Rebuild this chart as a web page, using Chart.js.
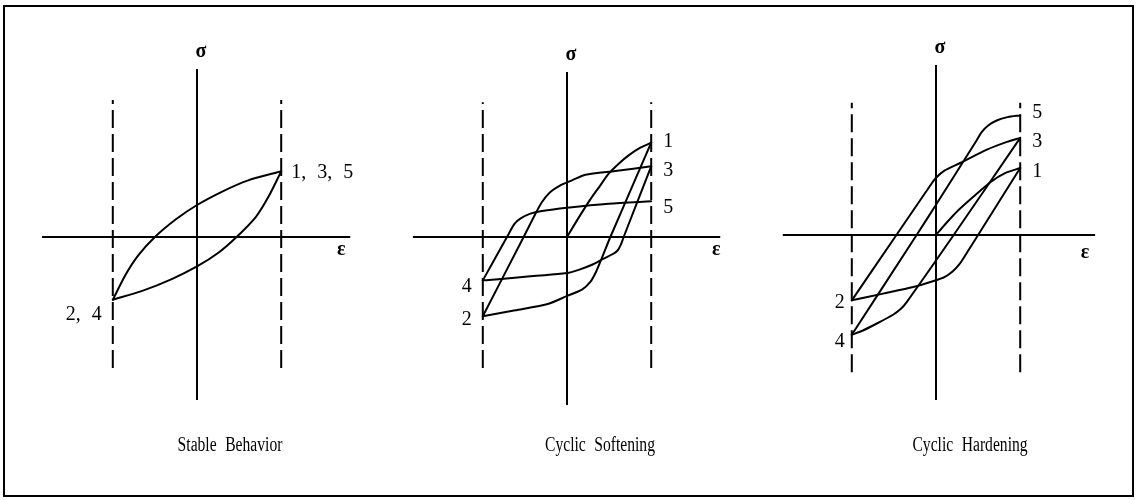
<!DOCTYPE html>
<html><head><meta charset="utf-8">
<script src="https://cdn.jsdelivr.net/npm/chart.js@4.4.1/dist/chart.umd.min.js"></script>
<style>
html,body{margin:0;padding:0;background:#fff;width:1140px;height:500px;overflow:hidden;}
#frame{position:absolute;left:3px;top:5px;width:1131px;height:492px;border:2px solid #000;box-sizing:border-box;}
canvas{position:absolute;}
.title{position:absolute;top:433px;width:260px;text-align:center;font-family:"Liberation Serif",serif;font-size:20px;line-height:22px;color:#000;transform:scaleX(0.78);word-spacing:6px;white-space:nowrap;}
</style></head><body>
<div id="frame"></div>
<canvas id="c1"></canvas>
<canvas id="c2"></canvas>
<canvas id="c3"></canvas>
<div class="title" style="left:100px">Stable Behavior</div>
<div class="title" style="left:470px">Cyclic Softening</div>
<div class="title" style="left:840px">Cyclic Hardening</div>
<script>
// ---------- DATA (normalised strain ε, normalised stress σ) ----------
const panelTitles = ['Stable Behavior', 'Cyclic Softening', 'Cyclic Hardening'];

// Stable behaviour: closed loop between 2,4 and 1,3,5
const stableLoadEps   = [-1, -0.85, -0.7, -0.5, -0.25, 0, 0.3, 0.6, 1];
const stableLoadSig   = [-0.745, -0.45, -0.22, 0, 0.21, 0.38, 0.54, 0.67, 0.78];
const stableUnloadEps = [1, 0.85, 0.7, 0.47, 0.25, 0, -0.3, -0.65, -1];
const stableUnloadSig = [0.78, 0.48, 0.24, 0, -0.19, -0.35, -0.5, -0.64, -0.745];

// Cyclic softening
const softVirginEps = [0, 0.139, 0.277, 0.396, 0.495, 0.614, 0.732, 0.871, 1];
const softVirginSig = [0, 0.23, 0.447, 0.614, 0.752, 0.871, 0.97, 1.061, 1.12];
const soft12Eps = [1, 0.515, 0.408, 0.344, 0.277, 0.178, 0, -0.218, -0.614, -1];
const soft12Sig = [1.12, 0, -0.265, -0.416, -0.534, -0.625, -0.70, -0.792, -0.871, -0.942];
const soft23Eps = [-1, -0.515, -0.364, -0.297, -0.198, -0.079, 0.059, 0.218, 0.574, 1];
const soft23Sig = [-0.942, 0, 0.297, 0.416, 0.534, 0.614, 0.673, 0.74, 0.784, 0.839];
const soft34Eps = [1, 0.673, 0.64, 0.6, 0.54, 0.435, 0.297, 0.139, 0, -1];
const soft34Sig = [0.839, 0, -0.09, -0.16, -0.205, -0.257, -0.33, -0.39, -0.428, -0.515];
const soft45Eps = [-1, -0.713, -0.622, -0.554, -0.435, -0.297, 0, 0.495, 1];
const soft45Sig = [-0.515, 0, 0.158, 0.218, 0.277, 0.309, 0.348, 0.396, 0.424];

// Cyclic hardening
const hardVirginEps = [0, 0.12, 0.25, 0.45, 0.65, 0.82, 1];
const hardVirginSig = [0, 0.14, 0.28, 0.46, 0.63, 0.735, 0.796];
const hard12Eps = [1, 0.5, 0.38, 0.29, 0.2, 0.1, 0, -0.27, -0.629, -1];
const hard12Sig = [0.796, 0, -0.19, -0.33, -0.43, -0.50, -0.537, -0.617, -0.696, -0.776];
const hard23Eps = [-1, -0.47, -0.06, 0, 0.1, 0.286, 0.605, 0.843, 1];
const hard23Sig = [-0.776, 0, 0.6, 0.68, 0.765, 0.855, 1.014, 1.106, 1.154];
const hard34Eps = [1, 0.21, -0.35, -0.42, -0.51, -0.708, -0.868, -1];
const hard34Sig = [1.154, 0, -0.80, -0.88, -0.947, -1.054, -1.134, -1.185];
const hard45Eps = [-1, -0.23, 0, 0.48, 0.54, 0.62, 0.72, 0.85, 1];
const hard45Sig = [-1.185, 0, 0.36, 1.12, 1.22, 1.3, 1.36, 1.40, 1.42];

// Reversal point labels
const stableLabels = ['1, 3, 5', '2, 4'];
const softLabels   = ['1', '2', '3', '4', '5'];
const hardLabels   = ['1', '2', '3', '4', '5'];

// Axis extents (data units)
const strainLimit = [-1, 1];
const axisExtents = [
  {sig: [-1.936, 1.995], eps: [-1.84, 1.82], dash: [-1.556, 1.627]},
  {sig: [-1.995, 1.96],  eps: [-1.83, 1.82], dash: [-1.556, 1.60]},
  {sig: [-1.96, 2.02],   eps: [-1.82, 1.89], dash: [-1.63, 1.57]}
];

// ---------- helpers ----------
const U = 84.2;                 // px per unit
const CW = 370, CTOP = 25, CH = 410;
const origins = [[197, 237], [567, 237], [936, 235]];

function pts(xs, ys){ return xs.map((v,i)=>({x:v, y:ys[i]})); }
function curve(xs, ys){
  return {data: pts(xs, ys), showLine:true, borderColor:'#000', borderWidth:2,
          pointRadius:0, tension:0.25, fill:false, borderCapStyle:'round', borderJoinStyle:'round'};
}
function straight(xs, ys, dash){
  return {data: pts(xs, ys), showLine:true, borderColor:'#000', borderWidth:2,
          pointRadius:0, tension:0, fill:false, borderDash: dash || []};
}
function textPlugin(items){
  return {
    id:'texts',
    afterDatasetsDraw(chart){
      const {ctx, scales:{x, y}} = chart;
      ctx.save();
      ctx.fillStyle = '#000';
      items.forEach(it=>{
        ctx.font = it.font;
        ctx.textAlign = it.align;
        ctx.textBaseline = 'alphabetic';
        if ('wordSpacing' in ctx) ctx.wordSpacing = it.ws || '0px';
        ctx.fillText(it.text, x.getPixelForValue(it.x) + it.dx, y.getPixelForValue(it.y) + it.dy);
      });
      ctx.restore();
    }
  };
}

const numFont = '20px "Liberation Serif", serif';
const symFont = 'bold 20px "Liberation Serif", serif';

function makePanel(idx, curves, labels, epsDx, epsDy){
  const [ox, oy] = origins[idx];
  const cv = document.getElementById('c' + (idx+1));
  cv.width = CW; cv.height = CH;
  cv.style.left = (ox - CW/2) + 'px';
  cv.style.top = CTOP + 'px';
  cv.style.width = CW + 'px'; cv.style.height = CH + 'px';
  const ext = axisExtents[idx];
  const datasets = [
    straight([0, 0], ext.sig),
    straight(ext.eps, [0, 0]),
    straight([strainLimit[0], strainLimit[0]], ext.dash, [18, 6]),
    straight([strainLimit[1], strainLimit[1]], ext.dash, [18, 6]),
    ...curves
  ];
  const items = labels.concat([
    {text:'σ', x:0, y:ext.sig[1], dx:4, dy:-12, align:'center', font:symFont},
    {text:'ε', x:ext.eps[1], y:0, dx:epsDx, dy:epsDy, align:'center', font:symFont}
  ]);
  new Chart(cv, {
    type:'scatter',
    data:{datasets},
    options:{
      responsive:false, animation:false, devicePixelRatio:1,
      layout:{padding:0},
      plugins:{legend:{display:false}, tooltip:{enabled:false}, title:{display:false}},
      scales:{
        x:{type:'linear', display:false, min:-(CW/2)/U, max:(CW/2)/U},
        y:{type:'linear', display:false, min:-(CTOP+CH-oy)/U, max:(oy-CTOP)/U}
      },
      elements:{line:{capBezierPoints:true}}
    },
    plugins:[textPlugin(items)]
  });
}

// Panel 1: stable
makePanel(0, [
  curve(stableLoadEps, stableLoadSig),
  curve(stableUnloadEps, stableUnloadSig)
], [
  {text:stableLabels[0], x:stableLoadEps[stableLoadEps.length-1], y:stableLoadSig[stableLoadSig.length-1], dx:10, dy:7, align:'left', font:numFont, ws:'6px'},
  {text:stableLabels[1], x:stableLoadEps[0], y:stableLoadSig[0], dx:-11, dy:20, align:'right', font:numFont, ws:'6px'}
], -9, 18);

// Panel 2: cyclic softening
makePanel(1, [
  curve(softVirginEps, softVirginSig),
  curve(soft12Eps, soft12Sig),
  curve(soft23Eps, soft23Sig),
  curve(soft34Eps, soft34Sig),
  curve(soft45Eps, soft45Sig)
], [
  {text:softLabels[0], x:1, y:soft12Sig[0], dx:12, dy:4, align:'left', font:numFont},
  {text:softLabels[1], x:-1, y:soft23Sig[0], dx:-11, dy:9, align:'right', font:numFont},
  {text:softLabels[2], x:1, y:soft34Sig[0], dx:12, dy:10, align:'left', font:numFont},
  {text:softLabels[3], x:-1, y:soft45Sig[0], dx:-11, dy:12, align:'right', font:numFont},
  {text:softLabels[4], x:1, y:soft45Sig[soft45Sig.length-1], dx:12, dy:12, align:'left', font:numFont}
], -4, 18);

// Panel 3: cyclic hardening
makePanel(2, [
  curve(hardVirginEps, hardVirginSig),
  curve(hard12Eps, hard12Sig),
  curve(hard23Eps, hard23Sig),
  curve(hard34Eps, hard34Sig),
  curve(hard45Eps, hard45Sig)
], [
  {text:hardLabels[0], x:1, y:hard12Sig[0], dx:12, dy:9, align:'left', font:numFont},
  {text:hardLabels[1], x:-1, y:hard23Sig[0], dx:-7, dy:8, align:'right', font:numFont},
  {text:hardLabels[2], x:1, y:hard34Sig[0], dx:12, dy:9, align:'left', font:numFont},
  {text:hardLabels[3], x:-1, y:hard45Sig[0], dx:-7, dy:12, align:'right', font:numFont},
  {text:hardLabels[4], x:1, y:hard45Sig[hard45Sig.length-1], dx:12, dy:3, align:'left', font:numFont}
], -10, 23);
</script>
</body></html>
